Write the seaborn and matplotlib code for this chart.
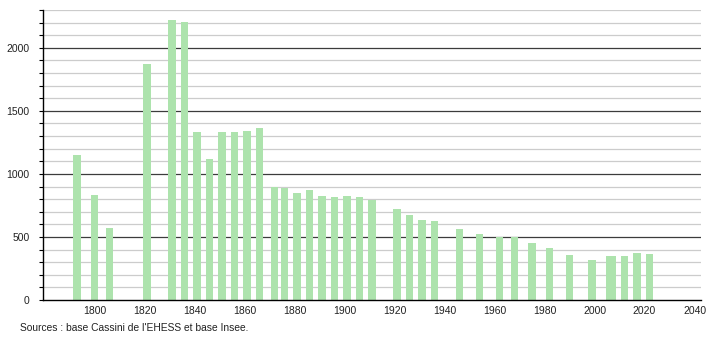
import numpy as np
import pandas as pd
import matplotlib
matplotlib.use("Agg")
import matplotlib.pyplot as plt
import seaborn as sns
from matplotlib.ticker import MultipleLocator

years = [1793, 1800, 1806, 1821, 1831, 1836, 1841, 1846, 1851, 1856, 1861, 1866,
         1872, 1876, 1881, 1886, 1891, 1896, 1901, 1906, 1911, 1921, 1926, 1931,
         1936, 1946, 1954, 1962, 1968, 1975, 1982, 1990, 1999, 2006, 2007, 2012,
         2017, 2022]
population = [1151, 833, 569, 1873, 2222, 2206, 1333, 1119, 1333, 1333, 1341, 1367,
              894, 889, 849, 873, 828, 817, 828, 820, 794, 722, 675, 635,
              627, 563, 524, 500, 500, 452, 413, 357, 317, 349, 349, 349,
              373, 365]
y_ticks = [0, 500, 1000, 1500, 2000]
x_ticks = [1800, 1820, 1840, 1860, 1880, 1900, 1920, 1940, 1960, 1980, 2000, 2020, 2040]
source_text = "Sources : base Cassini de l'EHESS et base Insee."

df = pd.DataFrame({"year": years, "pop": population})

sns.set_style("white")
plt.rcParams["font.family"] = ["Liberation Sans", "DejaVu Sans"]

fig = plt.figure(figsize=(7.1, 3.4), dpi=100)
ax = fig.add_axes([43 / 710, 40 / 340, (701 - 43) / 710, 290 / 340])

# grid lines
for v in range(100, 2301, 100):
    if v % 500 == 0:
        ax.axhline(v, color="#3c3c3c", lw=0.9, zorder=0)
    else:
        ax.axhline(v, color="#cccccc", lw=0.9, zorder=0)

sns.barplot(data=df, x="year", y="pop", native_scale=True, width=3.2,
            color="#ade3ad", saturation=1, edgecolor="none", linewidth=0,
            errorbar=None, ax=ax, zorder=2)

ax.set_xlim(1779.4, 2042.6)
ax.set_ylim(0, 2300)
ax.set_xticks(x_ticks)
ax.set_xticklabels([str(t) for t in x_ticks])
ax.set_yticks(y_ticks)
ax.set_yticklabels([str(t) for t in y_ticks])
ax.yaxis.set_minor_locator(MultipleLocator(100))
ax.set_xlabel("")
ax.set_ylabel("")

for s in ["top", "right"]:
    ax.spines[s].set_visible(False)
for s in ["left", "bottom"]:
    ax.spines[s].set_color("black")
    ax.spines[s].set_linewidth(1.0)

ax.tick_params(axis="y", which="both", direction="out", length=3, width=0.8,
               color="black", labelsize=7.5, pad=6.5, left=True)
ax.tick_params(axis="x", which="both", length=0, labelsize=7.5, pad=4,
               bottom=False)
for lbl in ax.get_xticklabels() + ax.get_yticklabels():
    lbl.set_color("#222222")

fig.text(20 / 710, 1 - 328 / 340, source_text, fontsize=7.4, color="#222222",
         ha="left", va="center")

fig.savefig("out.png", dpi=100)
